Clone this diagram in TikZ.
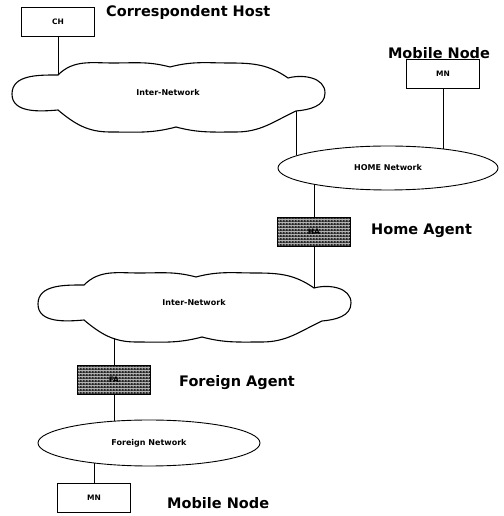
\documentclass[tikz,border=0pt]{standalone}
\usepackage{fontspec}
\setmainfont{DejaVu Sans}
\usepackage{tikz}
\usetikzlibrary{positioning,shapes.geometric,patterns.meta}
\tikzdeclarepattern{
  name=holes, type=colored,
  bottom left={(0pt,0pt)}, top right={(2.6pt,2.6pt)},
  tile size={(2.6pt,2.6pt)},
  code={\fill[black!85] (0pt,0pt) rectangle (2.6pt,2.6pt);
        \fill[white] (1.3pt,1.3pt) circle (0.75pt);}
}
\tikzset{
  hostbox/.style={rectangle, draw=black, line width=0.6pt, fill=white,
                  minimum width=73pt, minimum height=29pt, inner sep=1pt,
                  font=\fontsize{7.5}{8}\selectfont\bfseries},
  agent/.style={hostbox, pattern=holes},
  lan/.style={ellipse, draw=black, line width=0.9pt, inner sep=0pt,
              font=\fontsize{8}{9}\selectfont\bfseries},
  cloudline/.style={draw=black, line width=1.1pt},
  netlbl/.style={inner sep=0pt, font=\fontsize{8}{9}\selectfont\bfseries},
  role/.style={anchor=west, inner sep=0pt, font=\fontsize{14.5}{16}\selectfont\bfseries},
  link/.style={draw=black, line width=0.6pt},
}
\newcommand{\Cloud}[3]{% {name}{centre}{text}
  \begin{scope}[shift={#2}]
    \draw[cloudline] (-110,21) coordinate (#1-nw) to[out=45,in=180] (-55,33)
      to[out=0,in=165] (2,29) to[out=15,in=180] (62,33)
      to[out=0,in=145] (120,18) coordinate (#1-ne) to[out=15,in=90] (157,3)
      to[out=-90,in=5] (128,-15) coordinate (#1-se) to[out=-155,in=0] (68,-36)
      to[out=180,in=-15] (8,-31) to[out=-165,in=0] (-58,-36)
      to[out=180,in=-40] coordinate[pos=0.4] (#1-sw) (-110,-14)
      to[out=185,in=-90] (-156,2) to[out=90,in=180] cycle;
    \node[netlbl] (#1) at (0,3) {#3};
  \end{scope}}

\begin{document}
\begin{tikzpicture}[x=1pt,y=1pt]
  \useasboundingbox (0,0) rectangle (503,516);
  % home side
  \node[hostbox] (ch) at (58,494.5) {CH};
  \node[role] (chlbl) at (106,503) {Correspondent Host};
  \Cloud{net1}{(168,420)}{Inter-Network}
  \node[hostbox] (mn1) at (443,442) {MN};
  \node[role, anchor=center] (mn1lbl) at (439,463) {Mobile Node};
  \node[lan, minimum width=220pt, minimum height=44pt] (home) at (388,348) {HOME Network};
  \node[agent] (ha) at (314,284) {HA};
  \node[role] (halbl) at (371,285) {Home Agent};
  % foreign side
  \Cloud{net2}{(194,210)}{Inter-Network}
  \node[agent] (fa) at (114,136) {FA};
  \node[role] (falbl) at (179,133) {Foreign Agent};
  \node[lan, minimum width=222pt, minimum height=46pt] (foreign) at (149,73) {Foreign Network};
  \node[hostbox] (mn2) at (94,18) {MN};
  \node[role] (mn2lbl) at (167,13) {Mobile Node};

  \draw[link] (ch) -- (net1-nw);
  \draw[link] (net1-se) -- (net1-se |- home.172);
  \draw[link] (mn1) -- (mn1 |- home.19);
  \draw[link] (ha) -- (ha |- home.192);
  \draw[link] (ha) -- (ha |- net2-ne);
  \draw[link] (fa) -- (fa |- net2-sw);
  \draw[link] (fa) -- (fa |- foreign.149);
  \draw[link] (mn2) -- (mn2 |- foreign.200);
\end{tikzpicture}
\end{document}
